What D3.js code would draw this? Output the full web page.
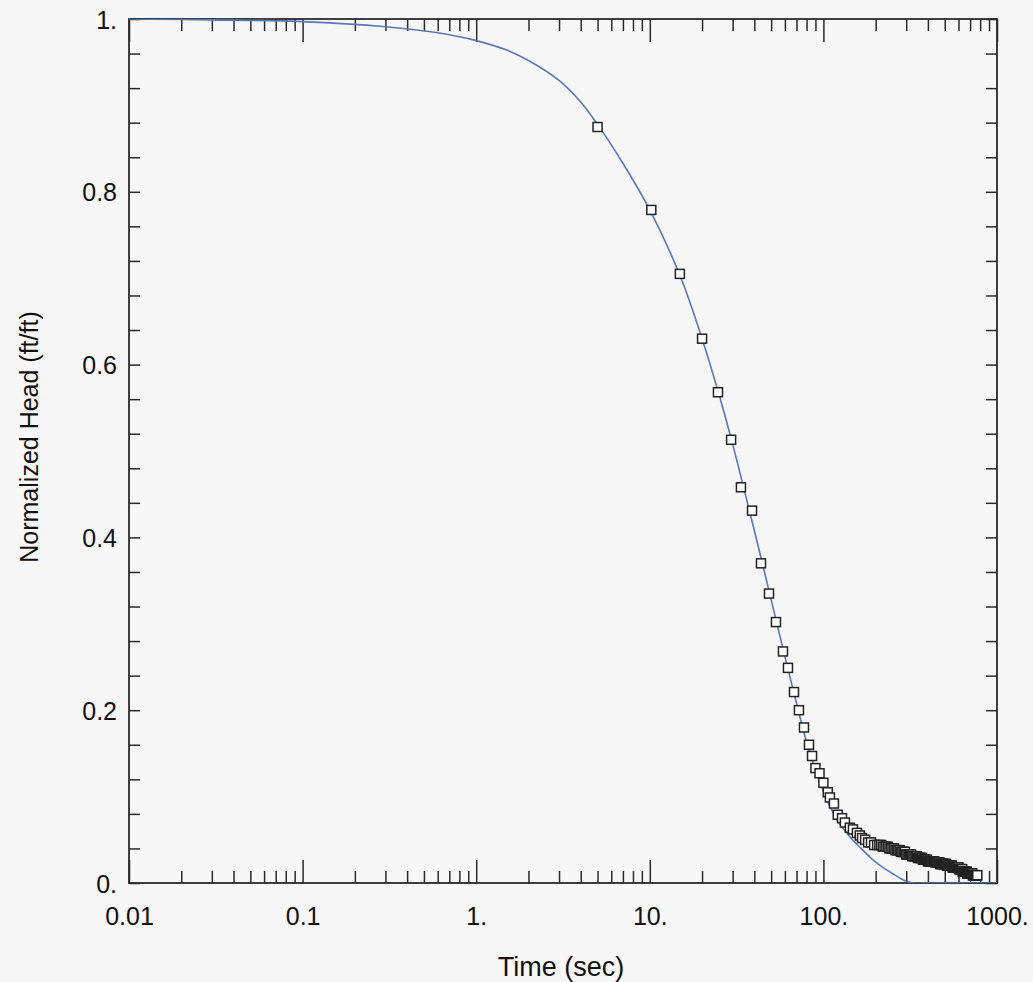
<!DOCTYPE html>
<html lang="en">
<head>
<meta charset="utf-8">
<title>Normalized Head vs Time</title>
<script src="https://cdn.jsdelivr.net/npm/d3@7"></script>
<style>
  body { margin: 0; background: #f7f7f8; }
  text { font-family: "Liberation Sans", Arial, Helvetica, sans-serif; fill: #111; }
</style>
</head>
<body>
<script>
// size of the page and plot box
var w = 1033, h = 982;
var plotLeft = 129, plotRight = 997, plotTop = 19, plotBottom = 883;

// axis ticks and labels
var xMajor = [0.01, 0.1, 1, 10, 100, 1000];
var xLabels = ["0.01", "0.1", "1.", "10.", "100.", "1000."];
var yMajor = [0, 0.2, 0.4, 0.6, 0.8, 1];
var yLabels = ["0.", "0.2", "0.4", "0.6", "0.8", "1."];

// observed data: time (sec)
var obsTime = [5.0, 10.2, 14.9, 20.0, 24.7, 29.4, 33.5, 38.8, 43.7, 48.6,
  53.3, 58.5, 62.5, 67.7, 72.3, 77.3, 82.6, 86, 90, 95,
  100, 106, 109, 115, 121, 128, 133, 142, 148, 156,
  162, 167, 174, 181, 188, 196, 204,
  210, 215, 220, 225, 230, 235, 240, 245, 250, 255,
  260, 265, 270, 275, 280, 285, 290, 295, 300, 305,
  310, 315, 320, 325, 330, 335, 340, 345, 350, 355,
  360, 365, 370, 375, 380, 385, 390, 395, 400, 405,
  410, 415, 420, 425, 430, 435, 440, 445, 450, 455,
  460, 465, 470, 475, 480, 485, 490, 495, 500, 505,
  510, 515, 520, 525, 530, 535, 540, 545, 550, 555,
  560, 565, 570, 575, 580, 585, 590, 595, 600, 605,
  610, 615, 620, 625, 630, 635, 640, 645, 650, 655,
  660, 665, 670, 675, 680, 685, 690, 695, 700, 705,
  710, 715, 720, 725, 730, 735, 740, 745, 750, 755,
  760, 765, 770];
// observed data: normalized head
var obsHead = [0.875, 0.779, 0.705, 0.630, 0.568, 0.513, 0.458, 0.431, 0.370, 0.335,
  0.302, 0.268, 0.249, 0.221, 0.200, 0.180, 0.160, 0.147, 0.133, 0.127,
  0.116, 0.105, 0.099, 0.092, 0.079, 0.075, 0.070, 0.064, 0.062, 0.058,
  0.055, 0.052, 0.050, 0.047, 0.047, 0.044, 0.044,
  0.044, 0.044, 0.042, 0.042, 0.042, 0.042, 0.040, 0.040, 0.040, 0.040,
  0.038, 0.038, 0.038, 0.038, 0.036, 0.036, 0.036, 0.036, 0.033, 0.033,
  0.033, 0.033, 0.033, 0.031, 0.031, 0.031, 0.031, 0.031, 0.029, 0.029,
  0.029, 0.029, 0.029, 0.027, 0.027, 0.027, 0.027, 0.027, 0.025, 0.025,
  0.025, 0.025, 0.025, 0.025, 0.025, 0.025, 0.024, 0.024, 0.024, 0.024,
  0.024, 0.024, 0.022, 0.022, 0.022, 0.022, 0.022, 0.022, 0.022, 0.022,
  0.022, 0.020, 0.020, 0.020, 0.020, 0.020, 0.020, 0.020, 0.020, 0.018,
  0.018, 0.018, 0.018, 0.018, 0.018, 0.018, 0.018, 0.018, 0.018, 0.016,
  0.016, 0.016, 0.016, 0.016, 0.016, 0.013, 0.013, 0.013, 0.013, 0.013,
  0.013, 0.013, 0.013, 0.011, 0.011, 0.011, 0.011, 0.011, 0.011, 0.011,
  0.011, 0.011, 0.011, 0.009, 0.009, 0.009, 0.009, 0.009, 0.009, 0.009,
  0.009, 0.009, 0.009];

// fitted type curve
var fitTime = [0.01, 0.03, 0.1, 0.3, 0.6, 1, 1.5, 2, 3, 4,
  5, 7, 10, 15, 20, 25, 30, 35, 40, 45,
  50, 60, 70, 80, 90, 100, 110, 120, 130, 140,
  150, 165, 190, 220, 250, 280, 300, 330, 400, 1000];
var fitHead = [1.0, 0.999, 0.997, 0.991, 0.984, 0.975, 0.964, 0.952, 0.929, 0.904,
  0.878, 0.833, 0.779, 0.702, 0.630, 0.566, 0.508, 0.455, 0.408, 0.366,
  0.328, 0.262, 0.208, 0.163, 0.131, 0.106, 0.087, 0.073, 0.063, 0.055,
  0.048, 0.040, 0.028, 0.018, 0.011, 0.005, 0.002, 0.0, 0.0, 0.0];

var obs = obsTime.map(function(t, i) { return { t: t, v: obsHead[i] }; });
var fit = fitTime.map(function(t, i) { return { t: t, v: fitHead[i] }; });

var xScale = d3.scaleLog().domain([0.01, 1000]).range([plotLeft, plotRight]);
var yScale = d3.scaleLinear().domain([0, 1]).range([plotBottom, plotTop]);

var svg = d3.select("body").append("svg")
  .attr("width", w)
  .attr("height", h);

svg.append("defs").append("clipPath").attr("id", "clip")
  .append("rect")
  .attr("x", plotLeft).attr("y", plotTop)
  .attr("width", plotRight - plotLeft).attr("height", plotBottom - plotTop);

var xMinor = xScale.ticks().filter(function(d) { return xMajor.indexOf(d) < 0; });
var yMinor = d3.range(0, 26).map(function(i) { return i * 0.04; });

function styleAxis(g) {
  g.select(".domain").remove();
  g.selectAll("line").attr("stroke", "#2a2a2a").attr("stroke-width", 1.5);
}

// bottom ticks
svg.append("g").attr("transform", "translate(0," + plotBottom + ")")
  .call(d3.axisBottom(xScale).tickValues(xMinor).tickSize(-12).tickFormat(""))
  .call(styleAxis);
svg.append("g").attr("transform", "translate(0," + plotBottom + ")")
  .call(d3.axisBottom(xScale).tickValues(xMajor).tickSize(-23).tickPadding(42)
    .tickFormat(function(d, i) { return xLabels[i]; }))
  .call(styleAxis)
  .selectAll("text").attr("font-size", 25).attr("dy", 0);

// top ticks
svg.append("g").attr("transform", "translate(0," + plotTop + ")")
  .call(d3.axisTop(xScale).tickValues(xMinor).tickSize(-12).tickFormat(""))
  .call(styleAxis);
svg.append("g").attr("transform", "translate(0," + plotTop + ")")
  .call(d3.axisTop(xScale).tickValues(xMajor).tickSize(-23).tickFormat(""))
  .call(styleAxis);

// left ticks
svg.append("g").attr("transform", "translate(" + plotLeft + ",0)")
  .call(d3.axisLeft(yScale).tickValues(yMinor).tickSize(-11).tickFormat(""))
  .call(styleAxis);
svg.append("g").attr("transform", "translate(" + plotLeft + ",0)")
  .call(d3.axisLeft(yScale).tickValues(yMajor).tickSize(0).tickPadding(12)
    .tickFormat(function(d, i) { return yLabels[i]; }))
  .call(styleAxis)
  .selectAll("text").attr("font-size", 25).attr("dy", "0.36em");

// right ticks
svg.append("g").attr("transform", "translate(" + plotRight + ",0)")
  .call(d3.axisRight(yScale).tickValues(yMinor).tickSize(-11).tickFormat(""))
  .call(styleAxis);

// frame
svg.append("rect")
  .attr("x", plotLeft).attr("y", plotTop)
  .attr("width", plotRight - plotLeft).attr("height", plotBottom - plotTop)
  .attr("fill", "none")
  .attr("stroke", "#2a2a2a")
  .attr("stroke-width", 1.8);

// fitted curve
var line = d3.line()
  .x(function(d) { return xScale(d.t); })
  .y(function(d) { return yScale(d.v); })
  .curve(d3.curveCatmullRom.alpha(0.5));

svg.append("path")
  .datum(fit)
  .attr("clip-path", "url(#clip)")
  .attr("d", line)
  .attr("fill", "none")
  .attr("stroke", "#5a78b8")
  .attr("stroke-width", 1.6);

// observed points
var s = 9;
svg.selectAll("rect.pt")
  .data(obs)
  .enter()
  .append("rect")
  .attr("class", "pt")
  .attr("x", function(d) { return xScale(d.t) - s / 2; })
  .attr("y", function(d) { return yScale(d.v) - s / 2; })
  .attr("width", s)
  .attr("height", s)
  .attr("fill", "#fff")
  .attr("stroke", "#222")
  .attr("stroke-width", 1.5);

// axis titles
svg.append("text")
  .attr("x", 561).attr("y", 976)
  .attr("text-anchor", "middle")
  .attr("font-size", 27)
  .text("Time (sec)");

svg.append("text")
  .attr("transform", "translate(38,437) rotate(-90)")
  .attr("text-anchor", "middle")
  .attr("font-size", 25)
  .text("Normalized Head (ft/ft)");
</script>
</body>
</html>
